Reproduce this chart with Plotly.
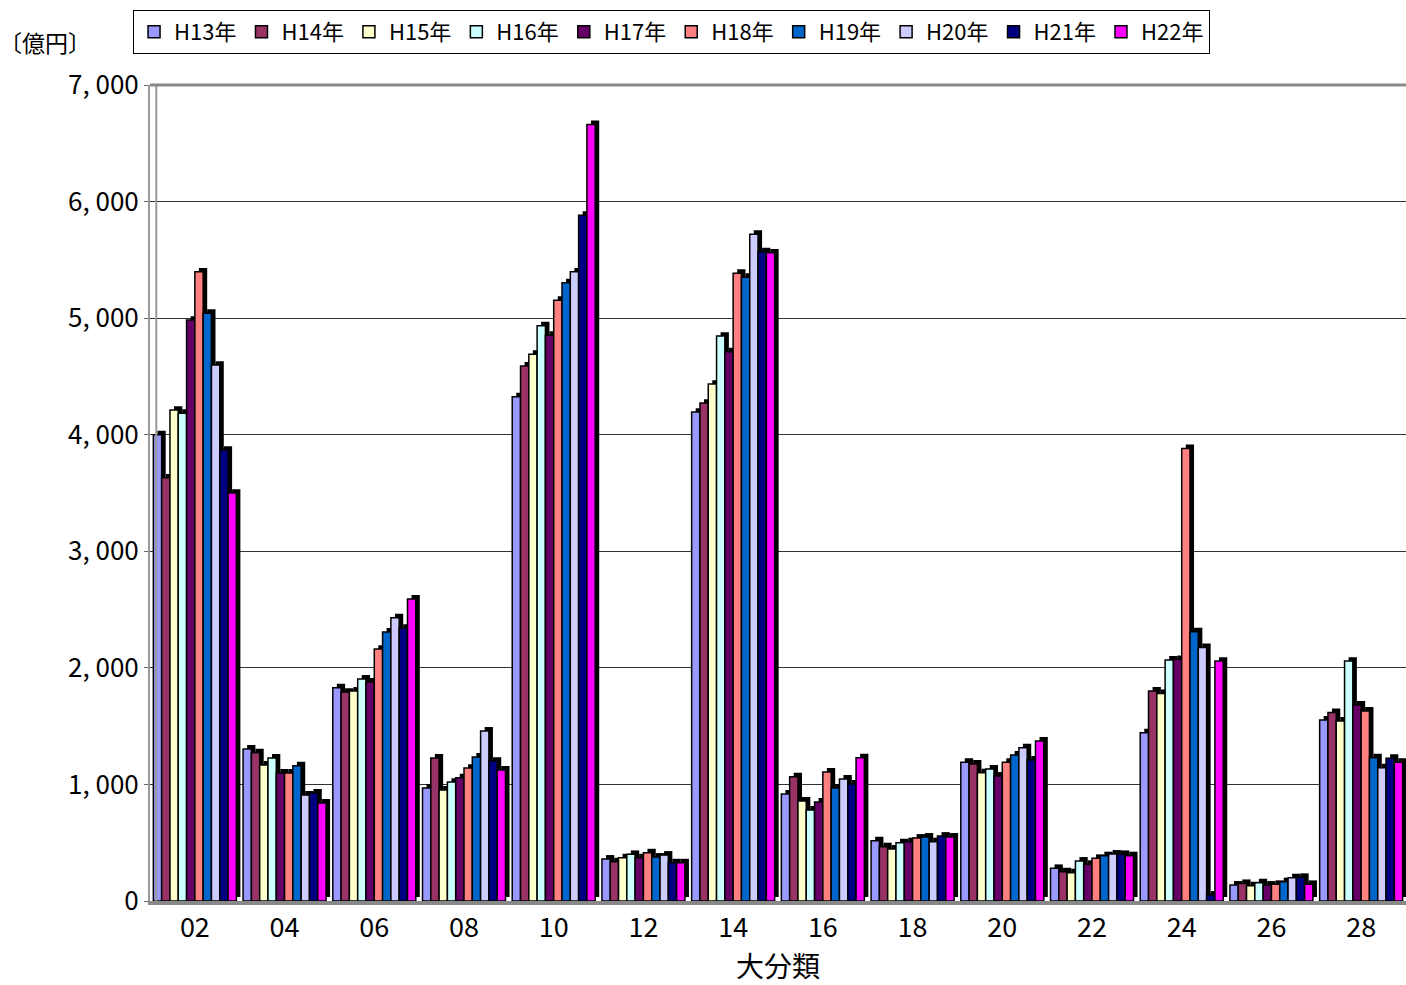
import plotly.graph_objects as go

categories = ["02", "04", "06", "08", "10", "12", "14", "16", "18", "20", "22", "24", "26", "28"]
series_names = ["H13年", "H14年", "H15年", "H16年", "H17年", "H18年", "H19年", "H20年", "H21年", "H22年"]

# values per series (億円), one value per category
h13 = [4000, 1304, 1829, 969, 4325, 360, 4194, 918, 517, 1190, 280, 1443, 137, 1552]
h14 = [3630, 1272, 1792, 1226, 4590, 337, 4271, 1066, 466, 1175, 251, 1801, 151, 1618]
h15 = [4211, 1166, 1801, 952, 4690, 371, 4434, 858, 446, 1100, 243, 1780, 131, 1544]
h16 = [4185, 1226, 1904, 1020, 4934, 400, 4846, 780, 500, 1132, 343, 2067, 157, 2058]
h17 = [4983, 1098, 1878, 1058, 4854, 371, 4711, 849, 509, 1072, 315, 2073, 137, 1681]
h18 = [5397, 1098, 2161, 1140, 5154, 414, 5386, 1106, 540, 1190, 366, 3882, 143, 1630]
h19 = [5043, 1160, 2307, 1235, 5303, 377, 5351, 969, 549, 1252, 389, 2310, 166, 1229]
h20 = [4597, 909, 2430, 1458, 5397, 394, 5720, 1046, 509, 1315, 403, 2175, 200, 1143]
h21 = [3868, 926, 2341, 1200, 5883, 328, 5569, 1003, 557, 1209, 400, 51, 203, 1224]
h22 = [3499, 840, 2590, 1124, 6661, 328, 5560, 1229, 549, 1372, 389, 2058, 143, 1190]

series_values = [h13, h14, h15, h16, h17, h18, h19, h20, h21, h22]
colors = ["#9999FF", "#993366", "#FFFFCC", "#CCFFFF", "#660066",
          "#FF8080", "#0066CC", "#CCCCFF", "#000080", "#FF00FF"]

tick_vals = [0, 1000, 2000, 3000, 4000, 5000, 6000, 7000]
tick_text = ["0", "1, 000", "2, 000", "3, 000", "4, 000", "5, 000", "6, 000", "7, 000"]

FONT = "Noto Sans CJK JP"

# style of the pseudo-3D bars (in axis units)
GROUP_W = 0.925
BAR_W = GROUP_W / len(series_names)
DEPTH_X = 0.045
DEPTH_Y = 34

fig = go.Figure()
# dark depth "sides" first
for i, vals in enumerate(series_values):
    off = -GROUP_W / 2 + i * BAR_W
    fig.add_trace(go.Bar(
        x=categories, y=vals, base=DEPTH_Y, offset=off + DEPTH_X, width=BAR_W,
        marker=dict(color="black", line=dict(width=0)),
        showlegend=False, hoverinfo="skip",
    ))
# front faces
for i, (name, vals, col) in enumerate(zip(series_names, series_values, colors)):
    off = -GROUP_W / 2 + i * BAR_W
    fig.add_trace(go.Bar(
        name=name, x=categories, y=vals, offset=off, width=BAR_W,
        marker=dict(color=col, line=dict(color="black", width=1.5)),
    ))

fig.update_layout(
    width=1406, height=985,
    margin=dict(l=150, r=0, t=85, b=84),
    paper_bgcolor="white", plot_bgcolor="white",
    barmode="overlay",
    font=dict(family=FONT, size=20, color="black"),
    legend=dict(
        orientation="h", x=-0.0135, y=1.092, xanchor="left", yanchor="top",
        bordercolor="black", borderwidth=1, bgcolor="white",
        font=dict(family=FONT, size=22), itemwidth=30,
        tracegroupgap=0,
    ),
    xaxis=dict(
        type="category", range=[-0.5, 13.5],
        showgrid=False, showline=True, linecolor="#888888", linewidth=4,
        ticks="", tickfont=dict(family=FONT, size=27),
        title=dict(text="大分類", font=dict(family=FONT, size=28), standoff=16),
    ),
    yaxis=dict(
        range=[0, 7000], tickvals=tick_vals, ticktext=tick_text,
        showgrid=True, gridcolor="#333333", gridwidth=1,
        showline=True, linecolor="#999999", linewidth=2,
        ticks="outside", ticklen=4, tickcolor="#666666",
        tickfont=dict(family=FONT, size=26),
        zeroline=False,
    ),
    annotations=[dict(
        text="〔億円〕", x=-0.122, y=1.053, xref="paper", yref="paper",
        xanchor="left", yanchor="middle", showarrow=False,
        font=dict(family=FONT, size=23),
    )],
    shapes=[
        dict(type="line", xref="paper", yref="paper", x0=0.005, x1=0.005, y0=0, y1=1,
             line=dict(color="#999999", width=2)),
        dict(type="line", xref="paper", yref="paper", x0=0, x1=1, y0=1, y1=1,
             line=dict(color="#888888", width=3)),
    ],
)

fig.write_html(
    "out.html",
    config={"displayModeBar": False},
    post_script="document.body.style.margin='0';document.body.style.overflow='hidden';",
)
